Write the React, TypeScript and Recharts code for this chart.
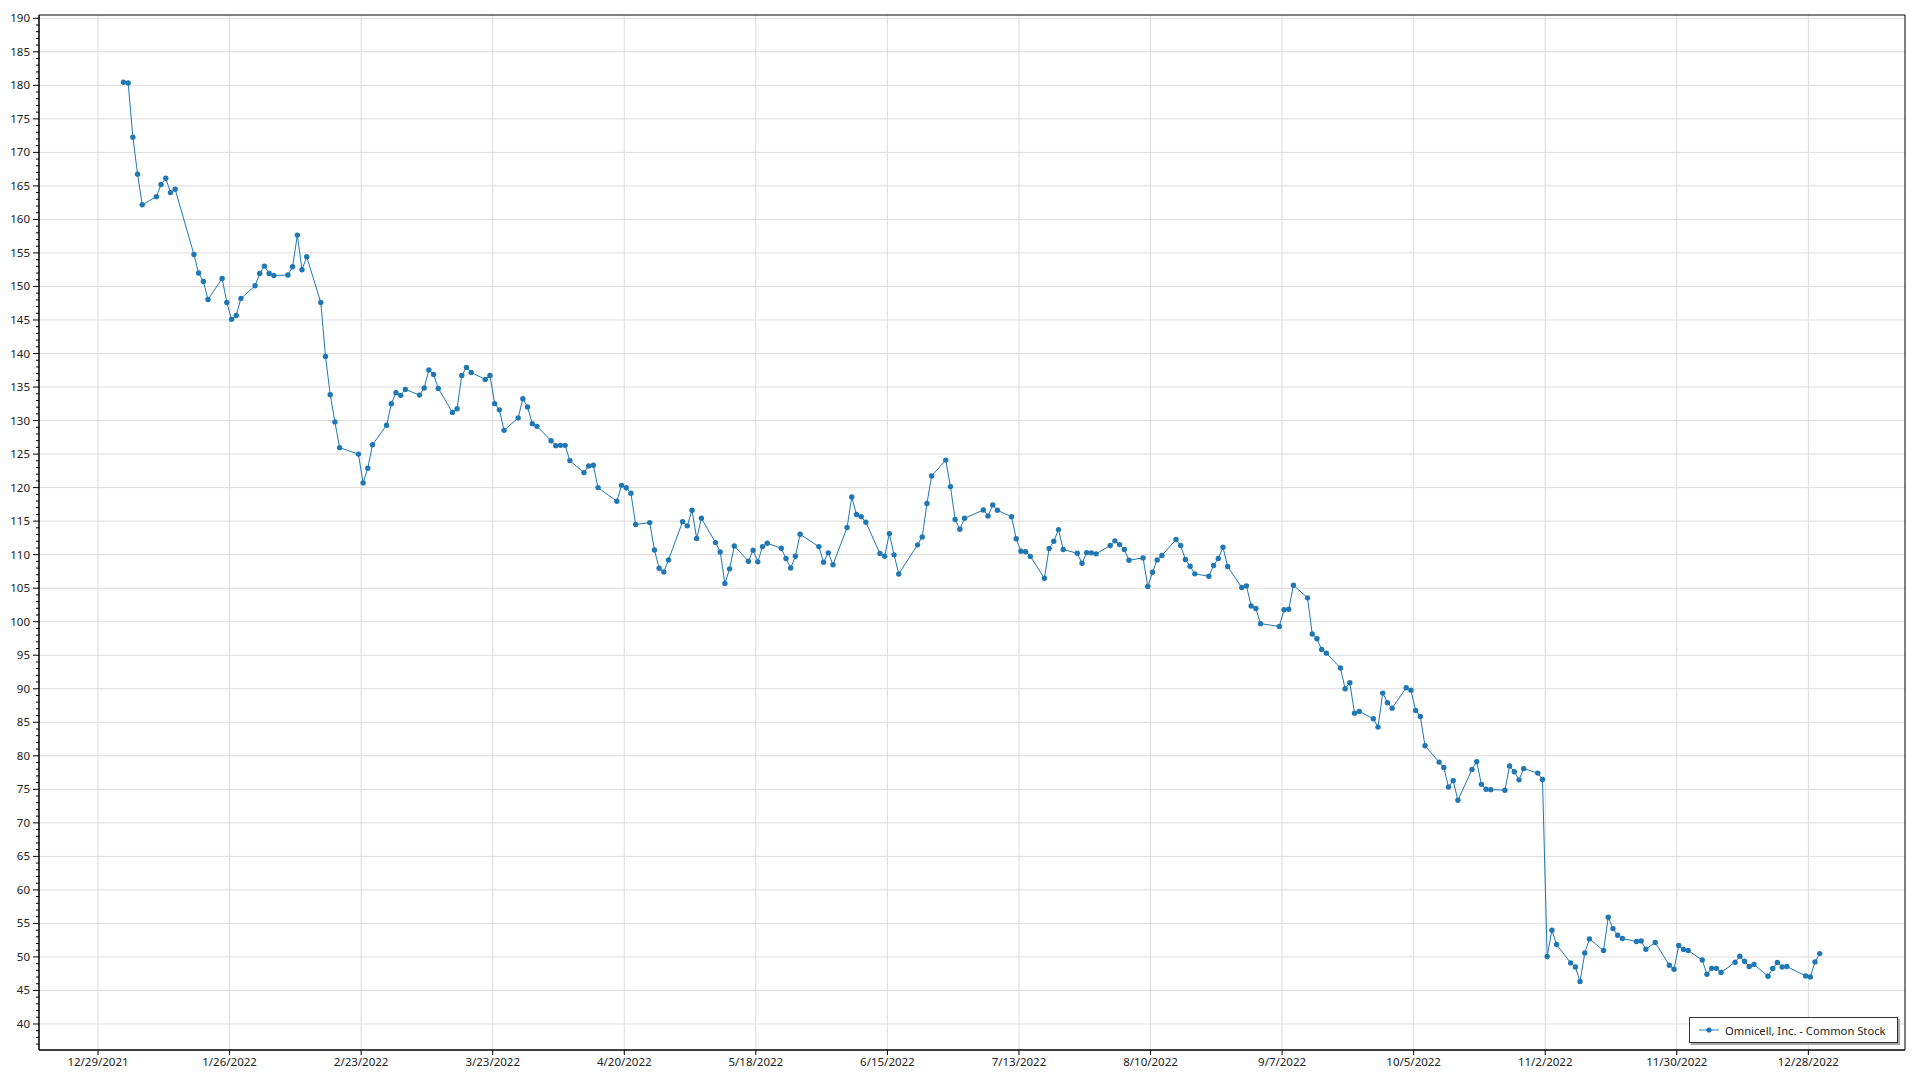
import React from 'react';
import { LineChart, Line, XAxis, YAxis, CartesianGrid, ReferenceArea, Legend } from 'recharts';

const SERIES_NAME = 'Omnicell, Inc. - Common Stock';
const FONT = '"Segoe UI", "Noto Sans", "Open Sans", sans-serif';
const BLUE = '#1f77b4';

// trading days of 2022 (M/D), each stamped at 10:00
const tradeDates = [
  '1/3', '1/4', '1/5', '1/6', '1/7', '1/10', '1/11', '1/12', '1/13', '1/14', '1/18', '1/19', '1/20', '1/21', '1/24', '1/25', '1/26', '1/27', '1/28', '1/31',
  '2/1', '2/2', '2/3', '2/4', '2/7', '2/8', '2/9', '2/10', '2/11', '2/14', '2/15', '2/16', '2/17', '2/18', '2/22', '2/23', '2/24', '2/25', '2/28',
  '3/1', '3/2', '3/3', '3/4', '3/7', '3/8', '3/9', '3/10', '3/11', '3/14', '3/15', '3/16', '3/17', '3/18', '3/21', '3/22', '3/23', '3/24', '3/25', '3/28', '3/29', '3/30', '3/31',
  '4/1', '4/4', '4/5', '4/6', '4/7', '4/8', '4/11', '4/12', '4/13', '4/14', '4/18', '4/19', '4/20', '4/21', '4/22', '4/25', '4/26', '4/27', '4/28', '4/29',
  '5/2', '5/3', '5/4', '5/5', '5/6', '5/9', '5/10', '5/11', '5/12', '5/13', '5/16', '5/17', '5/18', '5/19', '5/20', '5/23', '5/24', '5/25', '5/26', '5/27', '5/31',
  '6/1', '6/2', '6/3', '6/6', '6/7', '6/8', '6/9', '6/10', '6/13', '6/14', '6/15', '6/16', '6/17', '6/21', '6/22', '6/23', '6/24', '6/27', '6/28', '6/29', '6/30',
  '7/1', '7/5', '7/6', '7/7', '7/8', '7/11', '7/12', '7/13', '7/14', '7/15', '7/18', '7/19', '7/20', '7/21', '7/22', '7/25', '7/26', '7/27', '7/28', '7/29',
  '8/1', '8/2', '8/3', '8/4', '8/5', '8/8', '8/9', '8/10', '8/11', '8/12', '8/15', '8/16', '8/17', '8/18', '8/19', '8/22', '8/23', '8/24', '8/25', '8/26', '8/29', '8/30', '8/31',
  '9/1', '9/2', '9/6', '9/7', '9/8', '9/9', '9/12', '9/13', '9/14', '9/15', '9/16', '9/19', '9/20', '9/21', '9/22', '9/23', '9/26', '9/27', '9/28', '9/29', '9/30',
  '10/3', '10/4', '10/5', '10/6', '10/7', '10/10', '10/11', '10/12', '10/13', '10/14', '10/17', '10/18', '10/19', '10/20', '10/21', '10/24', '10/25', '10/26', '10/27', '10/28', '10/31',
  '11/1', '11/2', '11/3', '11/4', '11/7', '11/8', '11/9', '11/10', '11/11', '11/14', '11/15', '11/16', '11/17', '11/18', '11/21', '11/22', '11/23', '11/25', '11/28', '11/29', '11/30',
  '12/1', '12/2', '12/5', '12/6', '12/7', '12/8', '12/9', '12/12', '12/13', '12/14', '12/15', '12/16', '12/19', '12/20', '12/21', '12/22', '12/23', '12/27', '12/28', '12/29', '12/30',
];

const closePrices = [
  180.46, 180.36, 172.27, 166.75, 162.18, 163.4, 165.2, 166.15, 164.0, 164.5, 154.77, 152.0, 150.75, 148.06, 151.2, 147.6, 145.1, 145.68, 148.2, 150.1,
  151.94, 153.04, 151.94, 151.64, 151.7, 152.94, 157.66, 152.5, 154.43, 147.6, 139.57, 133.86, 129.8, 125.96, 125.0, 120.7, 122.9, 126.4, 129.3,
  132.5, 134.16, 133.76, 134.65, 133.8, 134.86, 137.54, 136.88, 134.8, 131.22, 131.77, 136.74, 137.93, 137.18, 136.14, 136.74, 132.52, 131.6, 128.54, 130.4, 133.26, 132.03, 129.54,
  129.14, 127.0, 126.26, 126.3, 126.3, 124.03, 122.24, 123.24, 123.33, 120.0, 117.96, 120.34, 119.98, 119.17, 114.49, 114.78, 110.7, 107.97, 107.43, 109.22,
  114.93, 114.3, 116.62, 112.4, 115.42, 111.8, 110.4, 105.7, 107.88, 111.3, 109.02, 110.66, 108.93, 111.2, 111.7, 110.95, 109.42, 108.0, 109.76, 113.04, 111.2,
  108.87, 110.27, 108.5, 114.04, 118.6, 115.98, 115.68, 114.83, 110.17, 109.77, 113.14, 109.97, 107.12, 111.46, 112.65, 117.62, 121.74, 124.1, 120.15, 115.24, 113.8,
  115.43, 116.66, 115.78, 117.42, 116.62, 115.66, 112.38, 110.5, 110.44, 109.74, 106.48, 110.93, 112.0, 113.74, 110.76, 110.21, 108.72, 110.31, 110.27, 110.12,
  111.36, 112.06, 111.5, 110.76, 109.17, 109.52, 105.25, 107.38, 109.22, 109.87, 112.25, 111.36, 109.27, 108.27, 107.14, 106.78, 108.38, 109.42, 111.1, 108.23, 105.1, 105.35, 102.35,
  101.97, 99.71, 99.3, 101.8, 101.86, 105.44, 103.56, 98.17, 97.45, 95.86, 95.31, 93.1, 90.0, 90.89, 86.36, 86.62, 85.53, 84.28, 89.35, 87.92, 87.11,
  90.15, 89.79, 86.77, 85.87, 81.5, 79.06, 78.27, 75.34, 76.29, 73.36, 77.97, 79.12, 75.74, 75.0, 74.95, 74.87, 78.47, 77.63, 76.41, 78.08, 77.42,
  76.46, 50.06, 53.98, 51.85, 49.11, 48.51, 46.33, 50.6, 52.69, 50.95, 55.92, 54.23, 53.24, 52.74, 52.3, 52.39, 51.15, 52.15, 48.77, 48.17, 51.7,
  51.1, 50.95, 49.55, 47.42, 48.3, 48.3, 47.68, 49.21, 50.11, 49.36, 48.57, 48.87, 47.13, 48.27, 49.17, 48.51, 48.57, 47.17, 47.02, 49.26, 50.5,
];

const xTickLabels = [
  '12/29/2021', '1/26/2022', '2/23/2022', '3/23/2022', '4/20/2022', '5/18/2022', '6/15/2022',
  '7/13/2022', '8/10/2022', '9/7/2022', '10/5/2022', '11/2/2022', '11/30/2022', '12/28/2022',
];

const yMajorTicks = [40, 45, 50, 55, 60, 65, 70, 75, 80, 85, 90, 95, 100, 105, 110, 115, 120, 125, 130, 135, 140, 145, 150, 155, 160, 165, 170, 175, 180, 185, 190];

const STAMP_HOUR = 10;

// days counted from 12/29/2021
const dayOf = (label: string) => {
  const [m, d, y] = label.split('/').map(Number);
  return (Date.UTC(y ?? 2022, m - 1, d) - Date.UTC(2021, 11, 29)) / 86400000;
};
const labelOf = (day: number) => {
  const dt = new Date(Date.UTC(2021, 11, 29) + day * 86400000);
  return `${dt.getUTCMonth() + 1}/${dt.getUTCDate()}/${dt.getUTCFullYear()}`;
};

const data = tradeDates.map((d, i) => ({ t: dayOf(d) + STAMP_HOUR / 24, close: closePrices[i] }));
const xTicks = xTickLabels.map(dayOf);
const xDomain = [-12.56, 384.57];
const yDomain = [36.12, 190.49];
const yAllTicks: number[] = [];
for (let v = 37; v <= 190; v++) yAllTicks.push(v);

const YTick = (props: any) => {
  const { x, y, payload } = props;
  const major = payload.value % 5 === 0;
  return (
    <g>
      <line x1={x - (major ? 6 : 3)} x2={x} y1={y} y2={y} stroke="#000" strokeWidth={1} />
      {major && (
        <text x={x - 9} y={y} dy="0.35em" textAnchor="end" fontFamily={FONT} fontSize={11.5} fill="#222">
          {payload.value}
        </text>
      )}
    </g>
  );
};

const XTick = (props: any) => {
  const { x, y, payload } = props;
  return (
    <g>
      <line x1={x} x2={x} y1={y} y2={y + 5} stroke="#000" strokeWidth={1} />
      <text x={x} y={y + 8} dy="0.71em" textAnchor="middle" fontFamily={FONT} fontSize={11.5} fill="#222">
        {labelOf(payload.value)}
      </text>
    </g>
  );
};

const LegendBox = () => (
  <div
    style={{
      boxSizing: 'border-box',
      width: 209,
      height: 26,
      border: '1px solid #333',
      background: '#fff',
      boxShadow: '2px 2px 0 #a8a8a8',
      display: 'flex',
      alignItems: 'center',
      fontFamily: FONT,
      fontSize: 11.2,
      color: '#222',
      whiteSpace: 'nowrap',
    }}
  >
    <svg width={35} height={10} style={{ flex: 'none' }}>
      <line x1={9} x2={29} y1={5} y2={5} stroke="#6fa9d6" strokeWidth={1.5} />
      <circle cx={19} cy={5} r={2.6} fill={BLUE} />
    </svg>
    <span>{SERIES_NAME}</span>
  </div>
);

export default function App() {
  return (
    <div style={{ position: 'absolute', left: 0, top: 0, width: 1920, height: 1080, background: '#fff' }}>
      <LineChart width={1920} height={1080} data={data} margin={{ top: 15, right: 15, bottom: 5, left: 0 }}>
        <CartesianGrid stroke="#dcdcdc" horizontalValues={yMajorTicks} verticalValues={xTicks} />
        <XAxis
          type="number"
          dataKey="t"
          domain={xDomain}
          ticks={xTicks}
          interval={0}
          allowDataOverflow
          tick={<XTick />}
          tickLine={false}
          tickSize={0}
          tickMargin={0}
          axisLine={{ stroke: '#000' }}
          height={25}
        />
        <YAxis
          type="number"
          domain={yDomain}
          ticks={yAllTicks}
          interval={0}
          allowDataOverflow
          tick={<YTick />}
          tickLine={false}
          tickSize={0}
          tickMargin={0}
          axisLine={{ stroke: '#000' }}
          width={39}
        />
        <ReferenceArea x1={xDomain[0]} x2={xDomain[1]} y1={yDomain[0]} y2={yDomain[1]} fill="none" stroke="#000" strokeWidth={1} ifOverflow="visible" />
        <Line
          dataKey="close"
          name={SERIES_NAME}
          type="linear"
          stroke={BLUE}
          strokeWidth={1}
          dot={{ r: 2.7, fill: BLUE, stroke: 'none' }}
          activeDot={false}
          isAnimationActive={false}
        />
        <Legend
          content={<LegendBox />}
          layout="horizontal"
          verticalAlign="middle"
          align="center"
          wrapperStyle={{ left: 1689, top: 1017, width: 209, height: 26 }}
        />
      </LineChart>
    </div>
  );
}
